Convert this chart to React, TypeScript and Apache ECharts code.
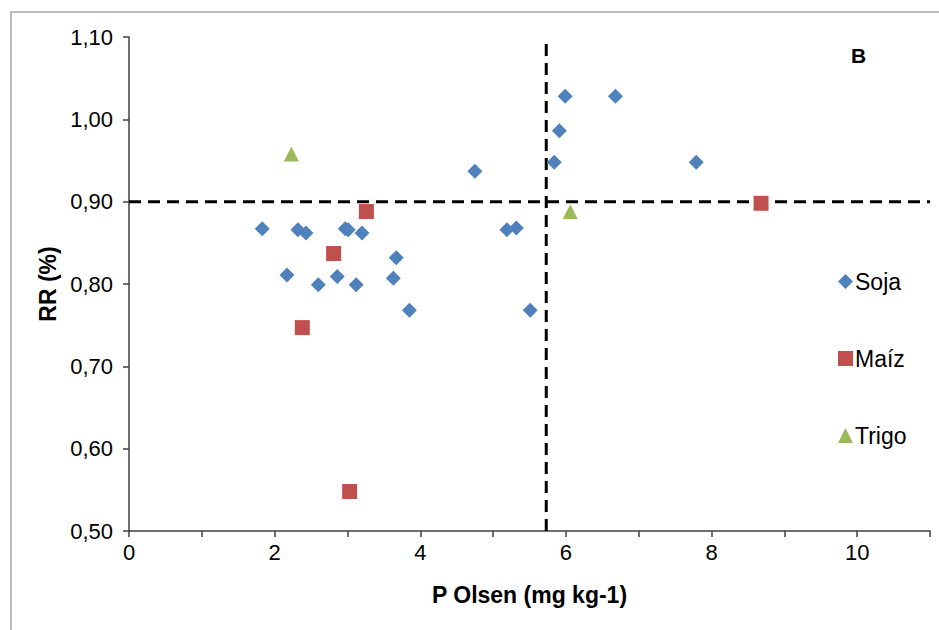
import React, { useEffect, useRef } from "react";
import * as echarts from "echarts";

const sojaX = [1.83, 2.17, 2.32, 2.43, 2.6, 2.86, 2.97, 3.01, 3.12, 3.2, 3.63, 3.67, 3.85, 4.75, 5.19, 5.32, 5.51, 5.84, 5.91, 5.99, 6.68, 7.79];
const sojaY = [0.867, 0.811, 0.866, 0.862, 0.799, 0.809, 0.867, 0.866, 0.799, 0.862, 0.807, 0.832, 0.768, 0.937, 0.866, 0.868, 0.768, 0.948, 0.986, 1.028, 1.028, 0.948];
const maizX = [3.26, 2.81, 2.38, 3.03, 8.68];
const maizY = [0.888, 0.837, 0.747, 0.548, 0.898];
const trigoX = [2.23, 6.06];
const trigoY = [0.958, 0.888];
const thresholdX = 5.73;
const thresholdY = 0.9;
const seriesNames = ["Soja", "Maíz", "Trigo"];
const FONT = "'Liberation Sans', Arial, sans-serif";

const zip = (xs: number[], ys: number[]) => xs.map((x, i) => [x, ys[i]]);

export default function App() {
  const ref = useRef<HTMLDivElement>(null);
  useEffect(() => {
    document.body.style.margin = "0";
    if (!ref.current) return;
    const chart = echarts.init(ref.current, undefined, { renderer: "svg" });
    const dashed = { color: "#000", width: 3, type: [12, 7] as number[] };
    chart.setOption({
      animation: false,
      backgroundColor: "#fff",
      textStyle: { fontFamily: FONT },
      grid: { left: 129, right: 9, top: 37, bottom: 99, containLabel: false },
      graphic: [
        {
          type: "rect",
          shape: { x: 11, y: 12, width: 1000, height: 700 },
          style: { fill: "none", stroke: "#a6a6a6", lineWidth: 1.5 },
          silent: true,
        },
        {
          type: "text",
          left: 851,
          top: 45,
          style: { text: "B", fontFamily: FONT, fontSize: 21, fontWeight: "bold", fill: "#000" },
        },
      ],
      legend: {
        orient: "vertical",
        left: 833,
        top: 265,
        itemWidth: 15,
        itemHeight: 15,
        itemGap: 54,
        data: seriesNames,
        textStyle: { fontFamily: FONT, fontSize: 23, color: "#000", padding: [0, 0, 0, -3] },
      },
      xAxis: {
        type: "value",
        min: 0,
        max: 11,
        interval: 1,
        name: "P Olsen (mg kg-1)",
        nameLocation: "middle",
        nameGap: 52,
        nameTextStyle: { fontFamily: FONT, fontSize: 23, fontWeight: "bold", color: "#000" },
        axisLine: { lineStyle: { color: "#404040", width: 1.5 } },
        axisTick: { show: true, length: 6, lineStyle: { color: "#404040", width: 1.5 } },
        splitLine: { show: false },
        axisLabel: {
          margin: 10,
          fontFamily: FONT,
          fontSize: 22,
          color: "#000",
          formatter: (v: number) => (v % 2 === 0 ? String(v) : ""),
        },
      },
      yAxis: {
        type: "value",
        min: 0.5,
        max: 1.1,
        interval: 0.1,
        name: "RR (%)",
        nameLocation: "middle",
        nameGap: 66,
        nameTextStyle: { fontFamily: FONT, fontSize: 23, fontWeight: "bold", color: "#000" },
        axisLine: { show: true, lineStyle: { color: "#404040", width: 1.5 } },
        axisTick: { show: true, length: 6, lineStyle: { color: "#404040", width: 1.5 } },
        splitLine: { show: false },
        axisLabel: {
          margin: 16,
          fontFamily: FONT,
          fontSize: 22,
          color: "#000",
          formatter: (v: number) => v.toFixed(2).replace(".", ","),
        },
      },
      series: [
        {
          type: "line",
          data: [[0, thresholdY], [11, thresholdY]],
          symbol: "none",
          lineStyle: dashed,
          silent: true,
          z: 1,
        },
        {
          type: "line",
          data: [[thresholdX, 0.5], [thresholdX, 1.1]],
          symbol: "none",
          lineStyle: dashed,
          silent: true,
          z: 1,
        },
        {
          name: seriesNames[0],
          type: "scatter",
          symbol: "diamond",
          symbolSize: [15, 15],
          itemStyle: { color: "#4F81BD", opacity: 1 },
          data: zip(sojaX, sojaY),
          z: 3,
        },
        {
          name: seriesNames[1],
          type: "scatter",
          symbol: "rect",
          symbolSize: 15,
          itemStyle: { color: "#C0504D", opacity: 1 },
          data: zip(maizX, maizY),
          z: 3,
        },
        {
          name: seriesNames[2],
          type: "scatter",
          symbol: "triangle",
          symbolSize: 15,
          itemStyle: { color: "#9BBB59", opacity: 1 },
          data: zip(trigoX, trigoY),
          z: 3,
        },
      ],
    });
    return () => chart.dispose();
  }, []);
  return <div ref={ref} style={{ position: "absolute", left: 0, top: 0, width: 939, height: 630 }} />;
}
